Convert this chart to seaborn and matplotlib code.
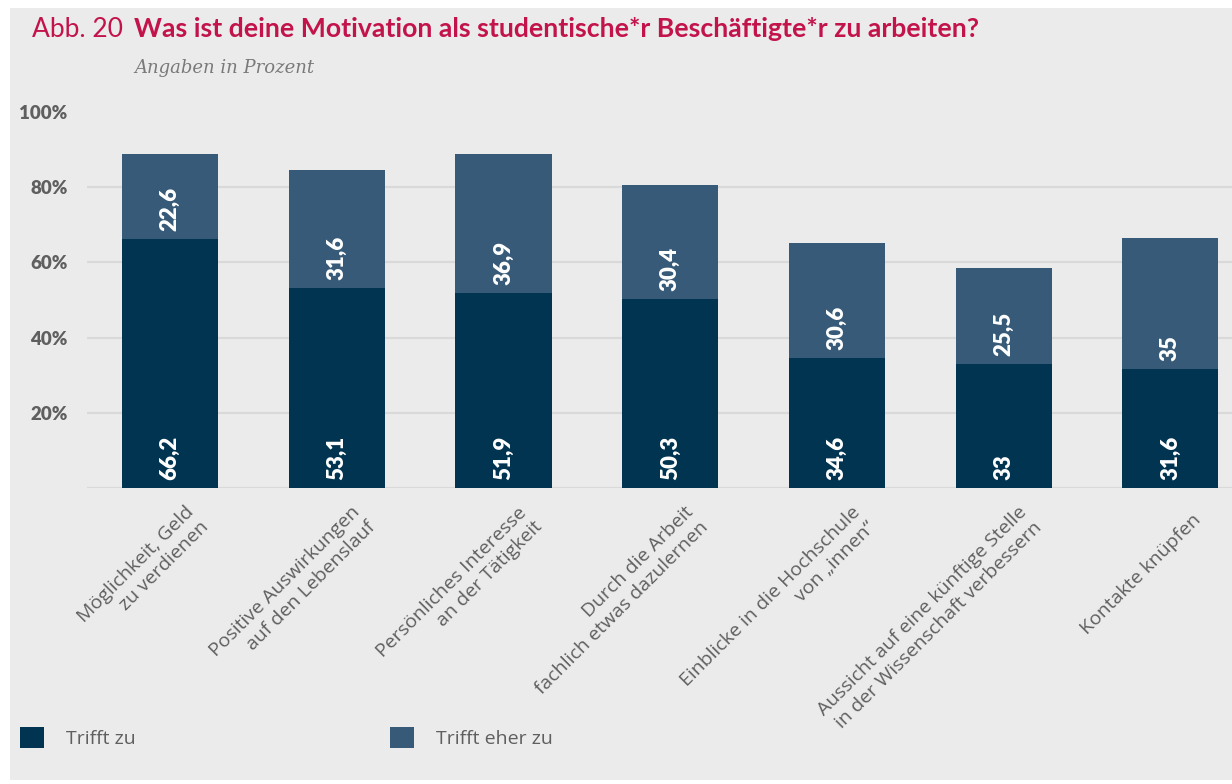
import matplotlib
matplotlib.use("Agg")
import matplotlib.pyplot as plt
from matplotlib.patches import Patch, Rectangle
from matplotlib.transforms import ScaledTranslation
import seaborn as sns
import pandas as pd

# --- data -----------------------------------------------------------------
categories = [
    "Möglichkeit, Geld\nzu verdienen",
    "Positive Auswirkungen\nauf den Lebenslauf",
    "Persönliches Interesse\nan der Tätigkeit",
    "Durch die Arbeit\nfachlich etwas dazulernen",
    "Einblicke in die Hochschule\nvon „innen“",
    "Aussicht auf eine künftige Stelle\nin der Wissenschaft verbessern",
    "Kontakte knüpfen",
]
trifft_zu = [66.2, 53.1, 51.9, 50.3, 34.6, 33.0, 31.6]
trifft_eher_zu = [22.6, 31.6, 36.9, 30.4, 30.6, 25.5, 35.0]
series_names = ["Trifft zu", "Trifft eher zu"]
y_ticks = [0, 20, 40, 60, 80, 100]
y_ticklabels = ["", "20%", "40%", "60%", "80%", "100%"]

title_prefix = "Abb. 20"
title = "Was ist deine Motivation als studentische*r Beschäftigte*r zu arbeiten?"
subtitle = "Angaben in Prozent"

# --- style ----------------------------------------------------------------
BG = "#ebebeb"
DARK = "#003451"
LIGHT = "#375a78"
CRIMSON = "#c3134b"
GRID = "#d9d9d9"
TXT = "#5f5f5f"

sns.set_theme(style="white")
plt.rcParams["font.family"] = ["Lato", "DejaVu Sans"]

W, H, DPI = 1232, 784, 100
fig = plt.figure(figsize=(W / DPI, H / DPI), dpi=DPI, facecolor="white")

# grey panel behind everything
fig.patches.append(Rectangle((10 / W, 1 - 780 / H), 1 - 10 / W, (780 - 8) / H,
                             transform=fig.transFigure, facecolor=BG,
                             edgecolor="none", zorder=-10))

ax_left, ax_right = 87 / W, 1.0
ax_bottom, ax_top = 1 - 488 / H, 1 - 112 / H
ax = fig.add_axes([ax_left, ax_bottom, ax_right - ax_left, ax_top - ax_bottom])
ax.set_facecolor("none")

df = pd.DataFrame({
    "kategorie": categories,
    "zu": trifft_zu,
    "eher": trifft_eher_zu,
})
df["gesamt"] = df["zu"] + df["eher"]

bar_w = 0.576
sns.barplot(data=df, x="kategorie", y="gesamt", order=categories, color=LIGHT,
            saturation=1, width=bar_w, linewidth=0, ax=ax, zorder=3)
sns.barplot(data=df, x="kategorie", y="zu", order=categories, color=DARK,
            saturation=1, width=bar_w, linewidth=0, ax=ax, zorder=4)

ax.set_xlim(-0.498, 6.369)
ax.set_ylim(0, 100)
ax.set_xlabel("")
ax.set_ylabel("")
for s in ax.spines.values():
    s.set_visible(False)

# grid
ax.set_yticks(y_ticks)
ax.set_yticklabels(y_ticklabels, fontsize=13.5, fontweight="heavy", color=TXT)
ax.tick_params(axis="y", length=0, pad=14)
ax.yaxis.grid(True, color=GRID, linewidth=1.6, zorder=0)
ax.set_axisbelow(True)
fig.canvas.draw()
ax.get_ygridlines()[-1].set_visible(False)

# x labels, rotated
ax.set_xticks(range(len(categories)))
ax.set_xticklabels([])
ax.tick_params(axis="x", length=0)
offset = ScaledTranslation(28 / DPI, -29 / DPI, fig.dpi_scale_trans)
for i, lab in enumerate(categories):
    ax.text(i, 0, lab, transform=ax.get_xaxis_transform() + offset,
            rotation=45, rotation_mode="anchor", ha="right", va="center",
            fontsize=14, color=TXT, family=["Open Sans", "DejaVu Sans"])

# value labels
def fmt(v):
    return f"{v:g}".replace(".", ",")

for i in range(len(categories)):
    ax.annotate(fmt(trifft_zu[i]), (i, 0), xytext=(0, 5.8),
                textcoords="offset points", rotation=90, ha="center",
                va="bottom", color="white", fontsize=16, fontweight="heavy",
                zorder=6)
    ax.annotate(fmt(trifft_eher_zu[i]), (i, trifft_zu[i]), xytext=(0, 5.8),
                textcoords="offset points", rotation=90, ha="center",
                va="bottom", color="white", fontsize=16, fontweight="heavy",
                zorder=6)

# titles
fig.text(32 / W, 1 - 37 / H, title_prefix, fontsize=19, fontweight="normal",
         color=CRIMSON, va="baseline", ha="left")
fig.text(134 / W, 1 - 37 / H, title, fontsize=19.2, fontweight="bold",
         color=CRIMSON, va="baseline", ha="left")
fig.text(134 / W, 1 - 73 / H, subtitle, fontsize=13, style="italic",
         color="#7a7a7a", va="baseline", ha="left",
         family=["DejaVu Serif"])

# legend
handles = [Patch(facecolor=DARK, edgecolor="none"),
           Patch(facecolor=LIGHT, edgecolor="none")]
leg = fig.legend(handles, series_names, loc="lower left",
                 bbox_to_anchor=(20 / W, 1 - 748 / H), ncol=2, frameon=False,
                 prop={"family": ["Open Sans", "DejaVu Sans"], "size": 14},
                 handlelength=1.23, handleheight=1.23, handletextpad=1.13,
                 columnspacing=13.1, borderpad=0, borderaxespad=0)
for t in leg.get_texts():
    t.set_color(TXT)

fig.savefig("out.png", dpi=DPI, facecolor="white")
